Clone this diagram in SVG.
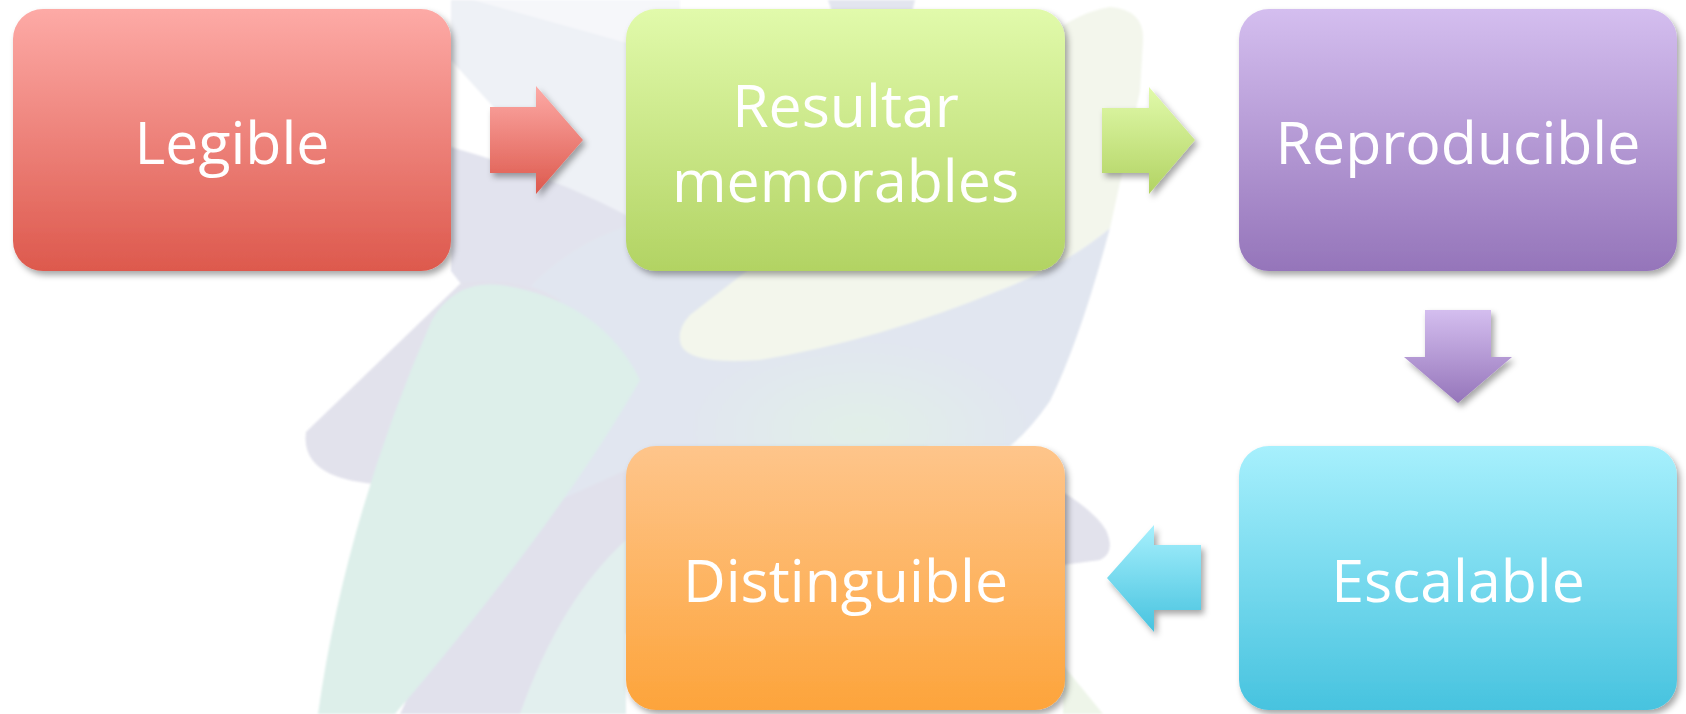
<svg xmlns="http://www.w3.org/2000/svg" width="1686" height="714" viewBox="0 0 1686 714">
<defs>
<linearGradient id="gRed" x1="0" y1="0" x2="0" y2="1"><stop offset="0" stop-color="#fdaaa6"/><stop offset="1" stop-color="#dd594d"/></linearGradient>
<linearGradient id="gGreen" x1="0" y1="0" x2="0" y2="1"><stop offset="0" stop-color="#e1faab"/><stop offset="1" stop-color="#b2d363"/></linearGradient>
<linearGradient id="gPurple" x1="0" y1="0" x2="0" y2="1"><stop offset="0" stop-color="#d4beef"/><stop offset="1" stop-color="#9575ba"/></linearGradient>
<linearGradient id="gCyan" x1="0" y1="0" x2="0" y2="1"><stop offset="0" stop-color="#a7f0fd"/><stop offset="1" stop-color="#47c3df"/></linearGradient>
<linearGradient id="gOrange" x1="0" y1="0" x2="0" y2="1"><stop offset="0" stop-color="#fec58b"/><stop offset="1" stop-color="#fda43b"/></linearGradient>
<radialGradient id="gCore" cx="0.5" cy="0.5" r="0.5"><stop offset="0" stop-color="#e1efe8"/><stop offset="1" stop-color="#e1efe8" stop-opacity="0"/></radialGradient>
<filter id="sh" x="-10%" y="-10%" width="125%" height="125%"><feDropShadow dx="3" dy="4" stdDeviation="3" flood-color="#000" flood-opacity="0.35"/></filter>
<filter id="soft"><feGaussianBlur stdDeviation="0.8"/></filter>
</defs>
<style>
.lbl{font-family:"Open Sans","Noto Sans",sans-serif;font-size:59px;fill:#ffffff;text-anchor:middle}
.box{filter:url(#sh)}
.arr{filter:url(#sh)}
</style>
<rect width="1686" height="714" fill="#ffffff"/>
<g id="watermark" filter="url(#soft)">
<path d="M451,0 L680,0 L680,330 L500,330 L462,285 L451,271 Z" fill="#eef1f6"/>
<path d="M451,0 L473,0 L627,43 L680,56 L680,0 Z" fill="#f6f7fa"/>
<polygon points="451,60 505,120 505,170 451,147" fill="#ffffff"/>
<path d="M451,147 Q550,175 626,215 L680,300 L680,330 L500,330 L462,285 L451,271 Z" fill="#e2e3ee"/>
<path d="M1110,228 Q1080,340 1050,401 Q1030,430 1010,446 L760,446 L760,350 Q880,340 1000,290 Q1066,265 1110,228 Z" fill="#e1e6f0"/>
<ellipse cx="700" cy="430" rx="228" ry="215" fill="#e1e6f0"/>
<path d="M306,432 L462,282 Q520,275 560,300 L560,470 L376,484 Q300,478 306,432 Z" fill="#e2e2ec"/>
<path d="M400,714 Q450,600 560,500 L626,470 L626,714 Z" fill="#e1e1ec"/>
<path d="M318,714 Q345,520 432,320 Q455,280 500,285 Q600,300 640,380 Q560,520 395,714 Z" fill="#ddefea"/>
<path d="M520,714 Q560,600 626,540 L626,714 Z" fill="#e2efee"/>
<ellipse cx="860" cy="430" rx="170" ry="90" fill="url(#gCore)"/>
<path d="M1110,7 Q1145,10 1143,41 L1140,91 L1110,228 Q1066,265 1000,290 Q880,340 760,360 Q690,365 681,345 Q676,330 690,315 L1067,23 Q1090,10 1110,7 Z" fill="#f3f6ec"/>
<path d="M828,0 L915,0 L912,12 L832,12 Z" fill="#e3e5ef"/>
<path d="M1063,492 Q1095,512 1106,530 Q1116,553 1100,560 L1063,565 Z" fill="#e2e2ec"/>
<polygon points="1063,665 1103,714 1063,714" fill="#eef5e9"/>
</g>
<g id="connectors">
<polygon class="arr" fill="url(#gRed)" points="490,107 536,107 536,86 583,140 536,194 536,173 490,173"/>
<polygon class="arr" fill="url(#gGreen)" points="1102,108 1149,108 1149,87 1195,140 1149,194 1149,173 1102,173"/>
<polygon class="arr" fill="url(#gPurple)" points="1425,310 1491,310 1491,357 1512,357 1458,403 1404,357 1425,357"/>
<polygon class="arr" fill="url(#gCyan)" points="1201,545 1154,545 1154,525 1107,578 1154,632 1154,610 1201,610"/>
</g>
<g id="node-legible">
<rect class="box" x="13" y="9" width="438" height="262" rx="30" fill="url(#gRed)"/>
<text class="lbl" x="232" y="164">Legible</text>
</g>
<g id="node-resultar">
<rect class="box" x="626" y="9" width="439" height="262" rx="30" fill="url(#gGreen)"/>
<text class="lbl" x="845.5" y="127">Resultar</text>
<text class="lbl" x="845.5" y="202">memorables</text>
</g>
<g id="node-reproducible">
<rect class="box" x="1239" y="9" width="438" height="262" rx="30" fill="url(#gPurple)"/>
<text class="lbl" x="1458" y="164">Reproducible</text>
</g>
<g id="node-escalable">
<rect class="box" x="1239" y="446" width="438" height="264" rx="30" fill="url(#gCyan)"/>
<text class="lbl" x="1458" y="602">Escalable</text>
</g>
<g id="node-distinguible">
<rect class="box" x="626" y="446" width="439" height="264" rx="30" fill="url(#gOrange)"/>
<text class="lbl" x="845.5" y="602">Distinguible</text>
</g>
</svg>
